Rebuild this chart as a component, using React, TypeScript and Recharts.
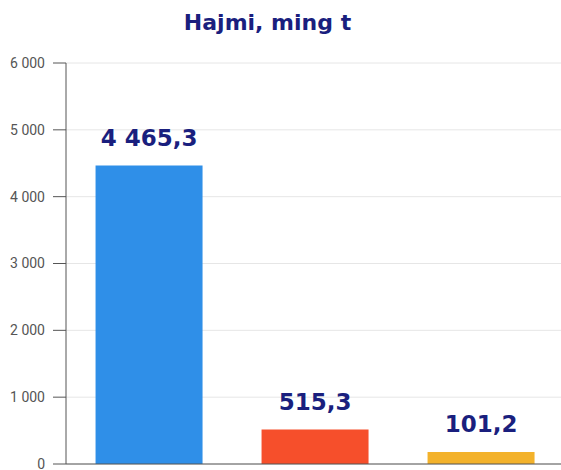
import { BarChart, Bar, XAxis, YAxis, CartesianGrid, LabelList, Cell } from "recharts";

const categories = ["A", "B", "C"];
const values = [4465.3, 515.3, 101.2];
const barColors = ["#2F8FE8", "#F64F2B", "#F3B22B"];
const yTicks = [0, 1000, 2000, 3000, 4000, 5000, 6000];

const NAVY = "#1a1f7e";

const data = categories.map((name, i) => ({ name, value: values[i] }));

const fmtThousands = (v: number) => String(v).replace(/\B(?=(\d{3})+(?!\d))/g, " ");
const fmtValue = (v: any) => Number(v).toFixed(1).replace(".", ",").replace(/\B(?=(\d{3})+(?!\d),)/g, " ");

const App = () => {
  return (
    <div
      style={{
        position: "absolute",
        left: 0,
        top: 0,
        width: 561,
        height: 470,
        overflow: "hidden",
        background: "#fff",
      }}
    >
      <div
        style={{
          position: "absolute",
          top: 12,
          left: 0,
          width: 535,
          textAlign: "center",
          fontFamily: "'DejaVu Sans', sans-serif",
          fontWeight: "bold",
          fontSize: 22,
          lineHeight: "22px",
          color: NAVY,
        }}
      >
        Hajmi, ming t
      </div>
      <BarChart
        width={570}
        height={480}
        data={data}
        margin={{ top: 63, right: 6, bottom: 0, left: 0 }}
        barCategoryGap="17.8%"
      >
        <CartesianGrid vertical={false} stroke="#e6e6e6" />
        <XAxis
          dataKey="name"
          height={16}
          tick={false}
          tickSize={10}
          axisLine={{ stroke: "#555" }}
          tickLine={{ stroke: "#555" }}
        />
        <YAxis
          width={66}
          domain={[0, 6000]}
          ticks={yTicks}
          tickFormatter={fmtThousands}
          tickSize={13}
          tickMargin={8}
          axisLine={{ stroke: "#555" }}
          tickLine={{ stroke: "#555" }}
          tick={{ fill: "#555", fontSize: 14, fontFamily: "Roboto, sans-serif" }}
        />
        <Bar dataKey="value" isAnimationActive={false} minPointSize={12}>
          {data.map((d, i) => (
            <Cell key={d.name} fill={barColors[i]} />
          ))}
          <LabelList
            dataKey="value"
            position="top"
            offset={20}
            formatter={fmtValue}
            fill={NAVY}
            style={{ fontFamily: "'DejaVu Sans', sans-serif", fontWeight: "bold", fontSize: 23 }}
          />
        </Bar>
      </BarChart>
    </div>
  );
};

export default App;
